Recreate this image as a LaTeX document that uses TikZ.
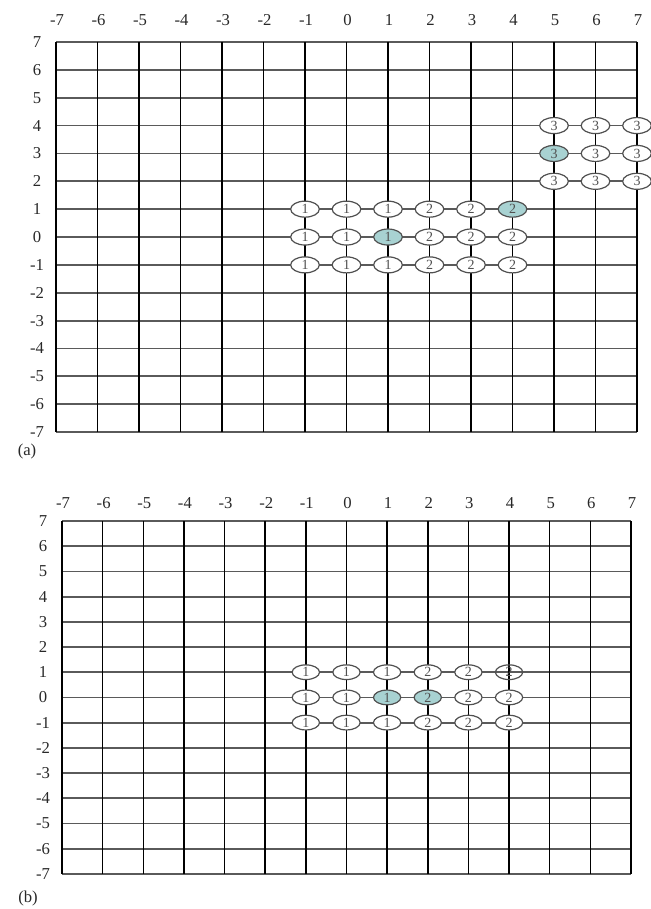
\documentclass[tikz,border=0pt]{standalone}
\usepackage{fontspec}
\setmainfont{Liberation Serif}
\usetikzlibrary{shapes.geometric}
\definecolor{hlinec}{RGB}{90,90,90}
\definecolor{cellc}{RGB}{168,210,210}
\definecolor{ellc}{RGB}{80,80,80}
\definecolor{labc}{RGB}{40,40,40}
\tikzset{
 vline/.style={line width=1.15pt, black},
 hline/.style={line width=1.35pt, hlinec},
 axlab/.style={font=\fontsize{12.5}{12.5}\selectfont, inner sep=0, text=labc},
 cellnode/.style={ellipse, draw=ellc, line width=0.9pt, minimum width=21.5pt, minimum height=12pt, inner sep=0, text=ellc, font=\fontsize{10.5}{10.5}\selectfont},
}
\begin{document}
\begin{tikzpicture}[x=0.75pt,y=-0.75pt]
\useasboundingbox (0,0) rectangle (650,909);
% ---------- panel (a) ----------
\def\ax{56}\def\ay{42}\def\adx{41.5}\def\ady{27.86}
\foreach \j in {-7,...,7} \draw[hline] ({\ax},{\ay+\ady*(7-\j)}) -- ({\ax+14*\adx},{\ay+\ady*(7-\j)});
\foreach \i in {-7,...,7} \draw[vline] ({\ax+\adx*(\i+7)},{\ay}) -- ({\ax+\adx*(\i+7)},{\ay+14*\ady});
\foreach \i in {-7,...,7} \node[axlab] (acol\i) at ({\ax+\adx*(\i+7)+1},20) {\i};
\foreach \j in {-7,...,7} \node[axlab] (arow\j) at (37,{\ay+\ady*(7-\j)}) {\j};
\node[axlab] (alab) at (27,451) {(a)};
\foreach \c/\r/\l/\f in {
 -1/1/1/white, 0/1/1/white, 1/1/1/white, 2/1/2/white, 3/1/2/white, 4/1/2/cellc,
 -1/0/1/white, 0/0/1/white, 1/0/1/cellc, 2/0/2/white, 3/0/2/white, 4/0/2/white,
 -1/-1/1/white, 0/-1/1/white, 1/-1/1/white, 2/-1/2/white, 3/-1/2/white, 4/-1/2/white,
 5/4/3/white, 6/4/3/white, 7/4/3/white,
 5/3/3/cellc, 6/3/3/white, 7/3/3/white,
 5/2/3/white, 6/2/3/white, 7/2/3/white}
 \node[cellnode, fill=\f] (a-\c-\r) at ({\ax+\adx*(\c+7)},{\ay+\ady*(7-\r)}) {\l};
% ---------- panel (b) ----------
\def\bx{62}\def\by{521}\def\bdx{40.64}\def\bdy{25.2}
\foreach \j in {-7,...,7} \draw[hline] ({\bx},{\by+\bdy*(7-\j)}) -- ({\bx+14*\bdx},{\by+\bdy*(7-\j)});
\foreach \i in {-7,...,7} \draw[vline] ({\bx+\bdx*(\i+7)},{\by}) -- ({\bx+\bdx*(\i+7)},{\by+14*\bdy});
\foreach \i in {-7,...,7} \node[axlab] (bcol\i) at ({\bx+\bdx*(\i+7)+1},503) {\i};
\foreach \j in {-7,...,7} \node[axlab] (brow\j) at (43,{\by+\bdy*(7-\j)}) {\j};
\node[axlab] (blab) at (28,898) {(b)};
\foreach \c/\r/\l/\f in {
 -1/1/1/white, 0/1/1/white, 1/1/1/white, 2/1/2/white, 3/1/2/white, 4/1/2/none,
 -1/0/1/white, 0/0/1/white, 1/0/1/cellc, 2/0/2/cellc, 3/0/2/white, 4/0/2/white,
 -1/-1/1/white, 0/-1/1/white, 1/-1/1/white, 2/-1/2/white, 3/-1/2/white, 4/-1/2/white}
 \node[cellnode, fill=\f, minimum width=20.5pt, minimum height=11pt] (b-\c-\r) at ({\bx+\bdx*(\c+7)},{\by+\bdy*(7-\r)}) {\l};
\end{tikzpicture}
\end{document}
